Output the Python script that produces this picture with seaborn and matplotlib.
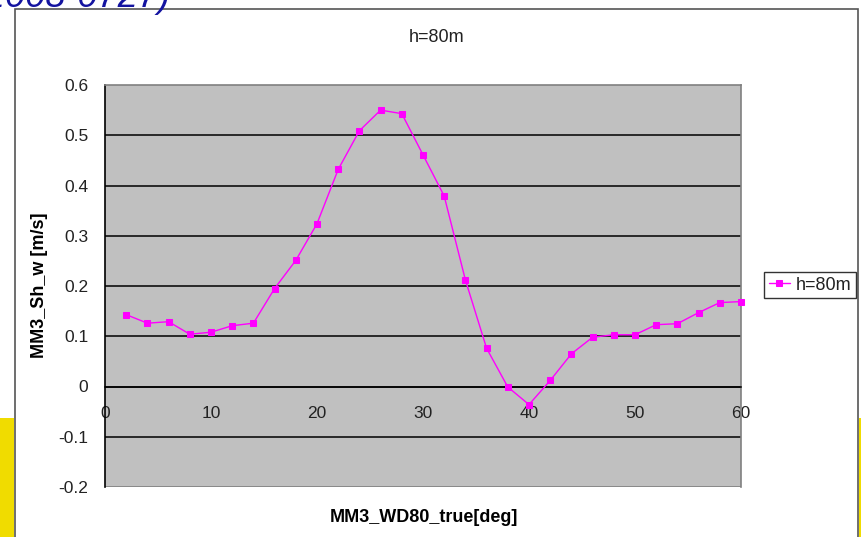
import numpy as np
import pandas as pd
import matplotlib
matplotlib.use("Agg")
import matplotlib.pyplot as plt
from matplotlib.patches import Rectangle
import seaborn as sns

# wind direction [deg] and shear values
wind_dir = [2, 4, 6, 8, 10, 12, 14, 16, 18, 20, 22, 24, 26, 28, 30,
            32, 34, 36, 38, 40, 42, 44, 46, 48, 50, 52, 54, 56, 58, 60]
shear_80m = [0.143, 0.126, 0.129, 0.104, 0.108, 0.121, 0.126, 0.195, 0.251, 0.324,
             0.432, 0.509, 0.550, 0.543, 0.461, 0.379, 0.212, 0.076, -0.001, -0.036,
             0.012, 0.065, 0.098, 0.103, 0.103, 0.123, 0.125, 0.147, 0.167, 0.169]
series_name = "h=80m"
x_ticks = [0, 10, 20, 30, 40, 50, 60]
y_ticks = [-0.2, -0.1, 0, 0.1, 0.2, 0.3, 0.4, 0.5, 0.6]
y_tick_labels = ["-0.2", "-0.1", "0", "0.1", "0.2", "0.3", "0.4", "0.5", "0.6"]

df = pd.DataFrame({"wd": wind_dir, "sh": shear_80m, "series": series_name})

sns.set_style("white")
plt.rcParams['font.family'] = ['Liberation Sans', 'DejaVu Sans']

W, H = 861, 537
fig = plt.figure(figsize=(W / 100, H / 100), dpi=100)

# page background bits: yellow strips and the chart frame
fig.patches.append(Rectangle((0, 0), 14 / W, 119 / H, transform=fig.transFigure,
                             facecolor="#f0dc00", edgecolor="none", zorder=-2))
fig.patches.append(Rectangle((859 / W, 0), 2 / W, 119 / H, transform=fig.transFigure,
                             facecolor="#f0dc00", edgecolor="none", zorder=-2))
fig.patches.append(Rectangle((15 / W, -0.05), 843 / W, 1 - 9 / H + 0.05, transform=fig.transFigure,
                             facecolor="white", edgecolor="#555555", linewidth=1.2, zorder=-1))

ax = fig.add_axes([105 / W, 1 - 487 / H, 636 / W, 402 / H])

fig.text(170 / W, 1 - 7 / H, "(2008-0727)", ha="right", va="baseline",
         fontsize=26, style="italic", color="#1414a0")

ax.set_facecolor("#c0c0c0")
for y in y_ticks[1:-1]:
    ax.axhline(y, color="black", linewidth=1.1, zorder=1)
ax.axhline(-0.2, color="#808080", linewidth=1.2, zorder=1)

sns.lineplot(data=df, x="wd", y="sh", hue="series", palette=["#ff00ff"], marker="s",
             markersize=5, markeredgecolor="#ff00ff", linewidth=1.0, ax=ax, zorder=3,
             clip_on=False)

ax.set_xlim(0, 60)
ax.set_ylim(-0.2, 0.6)
ax.set_xticks(x_ticks)
ax.set_xticklabels([str(t) for t in x_ticks])
ax.set_yticks(y_ticks)
ax.set_yticklabels(y_tick_labels)

ax.spines["bottom"].set_position(("data", 0))
ax.spines["bottom"].set_color("black")
ax.spines["bottom"].set_linewidth(1.1)
ax.spines["left"].set_color("black")
ax.spines["left"].set_linewidth(1.2)
for s in ["top", "right"]:
    ax.spines[s].set_color("#808080")
    ax.spines[s].set_linewidth(1.2)

ax.tick_params(axis="both", direction="out", length=5, width=1, color="black",
               labelsize=12.5, labelcolor="#222222")
ax.tick_params(axis="x", pad=9)
ax.tick_params(axis="y", pad=7)

ax.set_xlabel("")
ax.set_ylabel("")
fig.text(424 / W, 1 - 518 / H, "MM3_WD80_true[deg]", ha="center", va="center",
         fontsize=13, fontweight="bold", color="black")
fig.text(40 / W, 1 - 285 / H, "MM3_Sh_w [m/s]", ha="center", va="center",
         rotation=90, fontsize=13, fontweight="bold", color="black")
fig.text(437 / W, 1 - 37 / H, "h=80m", ha="center", va="center",
         fontsize=13, color="#222222")

leg = ax.legend(loc="upper left", bbox_to_anchor=(764 / W, 1 - 272 / H),
                bbox_transform=fig.transFigure, borderaxespad=0, frameon=True,
                fancybox=False, fontsize=13, handlelength=1.2, handletextpad=0.3,
                borderpad=0.25)
leg.get_frame().set_edgecolor("black")
leg.get_frame().set_linewidth(1.0)
leg.get_frame().set_facecolor("white")
for t in leg.get_texts():
    t.set_color("#222222")

fig.savefig("out.png", dpi=100)
